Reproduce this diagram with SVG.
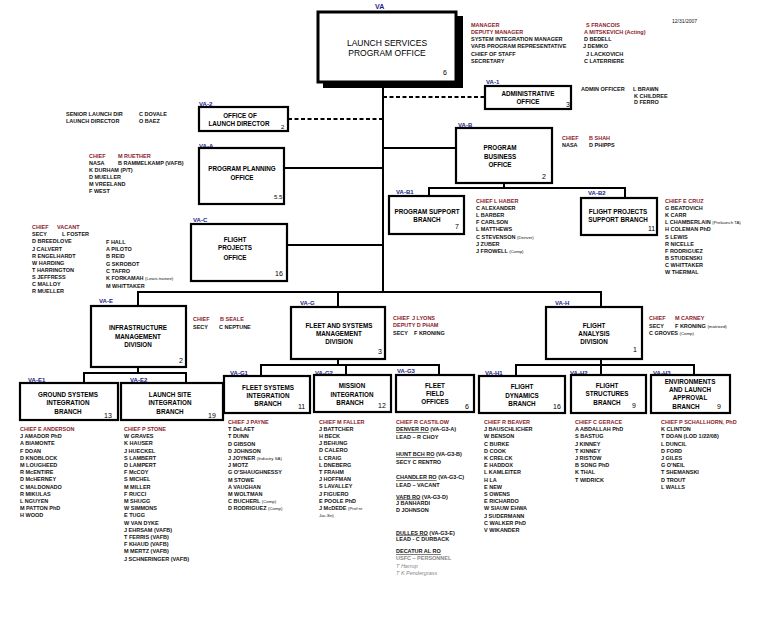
<svg xmlns="http://www.w3.org/2000/svg" width="763" height="619" viewBox="0 0 763 619">
<style>
text{font-family:"Liberation Sans",Arial,sans-serif}
.t{font-size:5.5px;font-weight:bold;fill:#111}
.r{fill:#8b1a2a}
.g{fill:#888}
.i{font-style:italic;font-weight:normal}
.u{text-decoration:underline}
.sm{font-size:4.3px;font-weight:normal}
.lb{font-size:6px;font-weight:bold;fill:#1c1c8a}
.bx{fill:#fff;stroke:#000;stroke-width:2.2}
.bt{font-size:6.3px;font-weight:bold;text-anchor:middle;fill:#000}
.n{font-size:7px;fill:#000}
.c{fill:none;stroke:#000;stroke-width:2}
.d{stroke-dasharray:4 2.5}
</style>
<rect width="763" height="619" fill="#fff"/>
<g id="connectors">
<path class="c" d="M383 82V292"/>
<path class="c d" d="M288 119H383"/>
<path class="c d" d="M383 97H485"/>
<path class="c" d="M284 168H383"/>
<path class="c" d="M383 148H456"/>
<path class="c" d="M287 245H383"/>
<path class="c" d="M504 183V188"/>
<path class="c" d="M429 196V188H625V198"/>
<path class="c" d="M138 306V292H601V307"/>
<path class="c" d="M338 292V307"/>
<path class="c" d="M138 367V373"/>
<path class="c" d="M84 383V373H186V383"/>
<path class="c" d="M338 359V365"/>
<path class="c" d="M261 376V365H439V375"/>
<path class="c" d="M346 365V375"/>
<path class="c" d="M601 359V375"/>
<path class="c" d="M516 376V365H694V375"/>
</g>
<text class="t" x="672" y="23" style="font-size:5px;font-weight:normal">12/31/2007</text>
<g id="lspo">
<text class="lb" x="375" y="9" style="font-size:7px">VA</text>
<rect x="323" y="16" width="140" height="72" fill="#000"/>
<rect x="318" y="12" width="138" height="70" fill="#fff" stroke="#000" stroke-width="3"/>
<text class="bt" x="387" y="45.5" style="font-size:8.5px;font-weight:normal">LAUNCH SERVICES</text>
<text class="bt" x="387" y="56" style="font-size:8.5px;font-weight:normal">PROGRAM OFFICE</text>
<text class="n" x="443" y="75">6</text>
<text class="t" x="471" y="26.5"><tspan class="r">MANAGER</tspan><tspan x="471" dy="7.3" class="r">DEPUTY MANAGER</tspan><tspan x="471" dy="7.3">SYSTEM INTEGRATION MANAGER</tspan><tspan x="471" dy="7.3">VAFB PROGRAM REPRESENTATIVE</tspan><tspan x="471" dy="7.3">CHIEF OF STAFF</tspan><tspan x="471" dy="7.3">SECRETARY</tspan></text>
<text class="t" x="586" y="26.5"><tspan class="r">S FRANCOIS</tspan><tspan x="584" dy="7.3" class="r">A MITSKEVICH (Acting)</tspan><tspan x="584" dy="7.3">D BEDELL</tspan><tspan x="583" dy="7.3">J DEMKO</tspan><tspan x="586" dy="7.3">J LACKOVICH</tspan><tspan x="584" dy="7.3">C LATERRIERE</tspan></text>
</g>
<g id="va1">
<text class="lb" x="486" y="83.5">VA-1</text>
<rect class="bx" x="485" y="86" width="86" height="23"/>
<text class="bt" x="528" y="96">ADMINISTRATIVE</text>
<text class="bt" x="528" y="104">OFFICE</text>
<text class="n" x="566" y="107">3</text>
<text class="t" x="581" y="91">ADMIN OFFICER<tspan x="633">L BRAWN</tspan><tspan x="634" dy="6.5">K CHILDREE</tspan><tspan x="634" dy="6.5">D FERRO</tspan></text>
</g>
<g id="va2">
<text class="lb" x="199" y="106">VA-2</text>
<rect class="bx" x="199" y="107" width="89" height="24"/>
<text class="bt" x="240" y="118">OFFICE OF</text>
<text class="bt" x="239" y="125.5">LAUNCH DIRECTOR</text>
<text class="n" x="281" y="129" style="font-size:6px">2</text>
<text class="t" x="66" y="116">SENIOR LAUNCH DIR<tspan x="139">C DOVALE</tspan><tspan x="66" dy="7">LAUNCH DIRECTOR</tspan><tspan x="139">O BAEZ</tspan></text>
</g>
<g id="vaa">
<text class="lb" x="199" y="147.5">VA-A</text>
<rect class="bx" x="199" y="148" width="85" height="56"/>
<text class="bt" x="242" y="170.5">PROGRAM PLANNING</text>
<text class="bt" x="242" y="179.5">OFFICE</text>
<text class="n" x="274" y="199" style="font-size:6px">5.5</text>
<text class="t" x="89" y="158"><tspan class="r">CHIEF</tspan><tspan x="118" class="r">M RUETHER</tspan><tspan x="89" dy="7">NASA</tspan><tspan x="118">B RAMMELKAMP (VAFB)</tspan><tspan x="89" dy="7">K DURHAM (P/T)</tspan><tspan x="89" dy="7">D MUELLER</tspan><tspan x="89" dy="7">M VREELAND</tspan><tspan x="89" dy="7.3">F WEST</tspan></text>
</g>
<g id="vab">
<text class="lb" x="458" y="127">VA-B</text>
<rect class="bx" x="456" y="128" width="96" height="55"/>
<text class="bt" x="500" y="149.5">PROGRAM</text>
<text class="bt" x="500" y="158.5">BUSINESS</text>
<text class="bt" x="500" y="167">OFFICE</text>
<text class="n" x="542" y="179">2</text>
<text class="t" x="562" y="140"><tspan class="r">CHIEF</tspan><tspan x="589" class="r">B SHAH</tspan><tspan x="562" dy="7">NASA</tspan><tspan x="589">D PHIPPS</tspan></text>
</g>
<g id="vab1">
<text class="lb" x="396" y="194">VA-B1</text>
<rect class="bx" x="389" y="196" width="75" height="38"/>
<text class="bt" x="427" y="213.5">PROGRAM SUPPORT</text>
<text class="bt" x="427" y="221.5">BRANCH</text>
<text class="n" x="455" y="229">7</text>
<text class="t" x="476" y="203"><tspan class="r">CHIEF  L HABER</tspan><tspan x="476" dy="7.1">C ALEXANDER</tspan><tspan x="476" dy="7.1">L BARBER</tspan><tspan x="476" dy="7.1">F CARLSON</tspan><tspan x="476" dy="7.1">L MATTHEWS</tspan><tspan x="476" dy="7.1">C STEVENSON <tspan class="sm">(Denver)</tspan></tspan><tspan x="476" dy="7.1">J ZUBER</tspan><tspan x="476" dy="7.1">J FROWELL <tspan class="sm">(Comp)</tspan></tspan></text>
</g>
<g id="vab2">
<text class="lb" x="588" y="194.5">VA-B2</text>
<rect class="bx" x="581" y="198" width="76" height="37"/>
<text class="bt" x="618" y="213.5">FLIGHT PROJECTS</text>
<text class="bt" x="618" y="221.5">SUPPORT BRANCH</text>
<text class="n" x="648" y="231">11</text>
<text class="t" x="665" y="203"><tspan class="r">CHIEF  E CRUZ</tspan><tspan x="665" dy="7.1">G BEATOVICH</tspan><tspan x="665" dy="7.1">K CARR</tspan><tspan x="665" dy="7.1">L CHAMBERLAIN <tspan class="sm">(Prelaunch TA)</tspan></tspan><tspan x="665" dy="7.1">H COLEMAN PhD</tspan><tspan x="665" dy="7.1">S LEWIS</tspan><tspan x="665" dy="7.1">R NICELLE</tspan><tspan x="665" dy="7.1">F RODRIGUEZ</tspan><tspan x="665" dy="7.1">B STUDENSKI</tspan><tspan x="665" dy="7.1">C WHITTAKER</tspan><tspan x="665" dy="7.1">W THERMAL</tspan></text>
</g>
<g id="vac">
<text class="lb" x="193" y="221.5">VA-C</text>
<rect class="bx" x="191" y="224" width="96" height="57"/>
<text class="bt" x="235" y="242">FLIGHT</text>
<text class="bt" x="235" y="250">PROJECTS</text>
<text class="bt" x="235" y="259.5">OFFICE</text>
<text class="n" x="275" y="276">16</text>
<text class="t" x="32" y="229"><tspan class="r">CHIEF</tspan><tspan x="57" class="r">VACANT</tspan><tspan x="32" dy="7.1">SECY</tspan><tspan x="62">L FOSTER</tspan><tspan x="32" dy="7.3">D BREEDLOVE</tspan><tspan x="32" dy="7.1">J CALVERT</tspan><tspan x="32" dy="7.1">R ENGELHARDT</tspan><tspan x="32" dy="7.1">W HARDING</tspan><tspan x="32" dy="7.1">T HARRINGTON</tspan><tspan x="32" dy="7.1">S JEFFRESS</tspan><tspan x="32" dy="7.1">C MALLOY</tspan><tspan x="32" dy="7.1">R MUELLER</tspan></text>
<text class="t" x="106" y="243.7">F HALL<tspan x="106" dy="7.3">A PILOTO</tspan><tspan x="106" dy="7.3">B REID</tspan><tspan x="106" dy="7.3">G SKROBOT</tspan><tspan x="106" dy="7.3">C TAFRO</tspan><tspan x="106" dy="7.3">K FORKAMAH <tspan class="sm">(Lewis trainee)</tspan></tspan><tspan x="106" dy="7.3">M WHITTAKER</tspan></text>
</g>
<g id="vae">
<text class="lb" x="99" y="303">VA-E</text>
<rect class="bx" x="91" y="306" width="95" height="61"/>
<text class="bt" x="138" y="330">INFRASTRUCTURE</text>
<text class="bt" x="138" y="338.5">MANAGEMENT</text>
<text class="bt" x="138" y="347">DIVISION</text>
<text class="n" x="179" y="363">2</text>
<text class="t" x="193" y="321"><tspan class="r">CHIEF</tspan><tspan x="220" class="r">B SEALE</tspan><tspan x="193" dy="7.5">SECY</tspan><tspan x="219">C NEPTUNE</tspan></text>
</g>
<g id="vae1">
<text class="lb" x="28" y="381.5">VA-E1</text>
<rect class="bx" x="20" y="383" width="98" height="37"/>
<text class="bt" x="68" y="396.5">GROUND SYSTEMS</text>
<text class="bt" x="68" y="404.5">INTEGRATION</text>
<text class="bt" x="68" y="413.5">BRANCH</text>
<text class="n" x="104" y="418">13</text>
<text class="t" x="20" y="431"><tspan class="r">CHIEF E ANDERSON</tspan><tspan x="20" dy="7.2">J AMADOR PhD</tspan><tspan x="20" dy="7.2">A BIAMONTE</tspan><tspan x="20" dy="7.2">F DOAN</tspan><tspan x="20" dy="7.2">D KNOBLOCK</tspan><tspan x="20" dy="7.2">M LOUGHEED</tspan><tspan x="20" dy="7.2">R McENTIRE</tspan><tspan x="20" dy="7.2">D McHERNEY</tspan><tspan x="20" dy="7.2">C MALDONADO</tspan><tspan x="20" dy="7.2">R MIKULAS</tspan><tspan x="20" dy="7.2">L NGUYEN</tspan><tspan x="20" dy="7.2">M PATTON PhD</tspan><tspan x="20" dy="7.2">H WOOD</tspan></text>
</g>
<g id="vae2">
<text class="lb" x="130" y="381.5">VA-E2</text>
<rect class="bx" x="121" y="383" width="102" height="37"/>
<text class="bt" x="170" y="396.5">LAUNCH SITE</text>
<text class="bt" x="170" y="404.5">INTEGRATION</text>
<text class="bt" x="170" y="413.5">BRANCH</text>
<text class="n" x="208" y="418">19</text>
<text class="t" x="124" y="431"><tspan class="r">CHIEF  P STONE</tspan><tspan x="124" dy="7.2">W GRAVES</tspan><tspan x="124" dy="7.2">K HAUSER</tspan><tspan x="124" dy="7.2">J HUECKEL</tspan><tspan x="124" dy="7.2">S LAMBERT</tspan><tspan x="124" dy="7.2">D LAMPERT</tspan><tspan x="124" dy="7.2">F McCOY</tspan><tspan x="124" dy="7.2">S MICHEL</tspan><tspan x="124" dy="7.2">M MILLER</tspan><tspan x="124" dy="7.2">F RUCCI</tspan><tspan x="124" dy="7.2">M SHUGG</tspan><tspan x="124" dy="7.2">W SIMMONS</tspan><tspan x="124" dy="7.2">E TUGG</tspan><tspan x="124" dy="7.2">W VAN DYKE</tspan><tspan x="124" dy="7.2">J EHRSAM (VAFB)</tspan><tspan x="124" dy="7.2">T FERRIS (VAFB)</tspan><tspan x="124" dy="7.2">F KHAUD (VAFB)</tspan><tspan x="124" dy="7.2">M MERTZ (VAFB)</tspan><tspan x="124" dy="7.2">J SCHNERINGER (VAFB)</tspan></text>
</g>
<g id="vag">
<text class="lb" x="300" y="305">VA-G</text>
<rect class="bx" x="291" y="307" width="94" height="52"/>
<text class="bt" x="339" y="327.5">FLEET AND SYSTEMS</text>
<text class="bt" x="339" y="335.5">MANAGEMENT</text>
<text class="bt" x="339" y="344">DIVISION</text>
<text class="n" x="378" y="354">3</text>
<text class="t" x="393" y="320"><tspan class="r">CHIEF</tspan><tspan x="412" class="r">J LYONS</tspan><tspan x="393" dy="6.6" class="r">DEPUTY D PHAM</tspan><tspan x="393" dy="8">SECY</tspan><tspan x="414">F KRONING</tspan></text>
</g>
<g id="vag1">
<text class="lb" x="230" y="374.5">VA-G1</text>
<rect class="bx" x="224" y="376" width="86" height="37"/>
<text class="bt" x="268" y="389.5">FLEET SYSTEMS</text>
<text class="bt" x="268" y="398">INTEGRATION</text>
<text class="bt" x="268" y="406">BRANCH</text>
<text class="n" x="298" y="409">11</text>
<text class="t" x="228" y="424"><tspan class="r">CHIEF J PAYNE</tspan><tspan x="228" dy="7.2">T DeLAET</tspan><tspan x="228" dy="7.2">T DUNN</tspan><tspan x="228" dy="7.2">D GIBSON</tspan><tspan x="228" dy="7.2">D JOHNSON</tspan><tspan x="228" dy="7.2">J JOYNER <tspan class="sm">(Industry SA)</tspan></tspan><tspan x="228" dy="7.2">J MOTZ</tspan><tspan x="228" dy="7.2">G O'SHAUGHNESSY</tspan><tspan x="228" dy="7.2">M STOWE</tspan><tspan x="228" dy="7.2">A VAUGHAN</tspan><tspan x="228" dy="7.2">M WOLTMAN</tspan><tspan x="228" dy="7.2">C BUCHERL <tspan class="sm">(Comp)</tspan></tspan><tspan x="228" dy="7.2">D RODRIGUEZ <tspan class="sm">(Comp)</tspan></tspan></text>
</g>
<g id="vag2">
<text class="lb" x="315" y="374.5">VA-G2</text>
<rect class="bx" x="314" y="375" width="77" height="37"/>
<text class="bt" x="352" y="388">MISSION</text>
<text class="bt" x="352" y="396.5">INTEGRATION</text>
<text class="bt" x="350" y="404.5">BRANCH</text>
<text class="n" x="378" y="408">12</text>
<text class="t" x="319" y="423.5"><tspan class="r">CHIEF M FALLER</tspan><tspan x="319" dy="7.2">J BATTCHER</tspan><tspan x="319" dy="7.2">H BECK</tspan><tspan x="319" dy="7.2">J BEHUNG</tspan><tspan x="319" dy="7.2">D CALERO</tspan><tspan x="319" dy="7.2">L CRAIG</tspan><tspan x="319" dy="7.2">L DNEBERG</tspan><tspan x="319" dy="7.2">T FRAHM</tspan><tspan x="319" dy="7.2">J HOFFMAN</tspan><tspan x="319" dy="7.2">S LAVALLEY</tspan><tspan x="319" dy="7.2">J FIGUERO</tspan><tspan x="319" dy="7.2">E POOLE PhD</tspan><tspan x="319" dy="7.2">J McDEDE <tspan class="sm">(Prof nr</tspan></tspan><tspan x="319" dy="7" class="sm">Jac-Sn)</tspan></text>
</g>
<g id="vag3">
<text class="lb" x="397" y="373">VA-G3</text>
<rect class="bx" x="396" y="375" width="78" height="37"/>
<text class="bt" x="435" y="387.5">FLEET</text>
<text class="bt" x="435" y="395.5">FIELD</text>
<text class="bt" x="435" y="403.5">OFFICES</text>
<text class="n" x="465" y="408.5">6</text>
<text class="t" x="396" y="423.5"><tspan class="r">CHIEF  R CASTILOW</tspan><tspan x="396" y="431"><tspan class="u">DENVER RO</tspan> (VA-G3-A)</tspan><tspan x="396" y="438.5">LEAD – R CHOY</tspan><tspan x="396" y="456"><tspan class="u">HUNT BCH RO</tspan> (VA-G3-B)</tspan><tspan x="396" y="464">SECY  C RENTRO</tspan><tspan x="396" y="479"><tspan class="u">CHANDLER RO</tspan> (VA-G3-C)</tspan><tspan x="396" y="486.5">LEAD – VACANT</tspan><tspan x="396" y="498.5"><tspan class="u">VAFB RO</tspan> (VA-G3-D)</tspan><tspan x="396" y="505">J BANHARDI</tspan><tspan x="396" y="511.5">D JOHNSON</tspan><tspan x="396" y="534.5"><tspan class="u">DULLES RO</tspan> (VA-G3-E)</tspan><tspan x="396" y="541">LEAD - C DURBACK</tspan><tspan x="396" y="553" class="u">DECATUR AL RO</tspan><tspan x="396" y="560" class="g">USFC – PERSONNEL</tspan><tspan x="396" y="567.5" class="g i">T Harrop</tspan><tspan x="396" y="575" class="g i">T K Pendergrass</tspan></text>
</g>
<g id="vah">
<text class="lb" x="555" y="305">VA-H</text>
<rect class="bx" x="546" y="307" width="96" height="52"/>
<text class="bt" x="594" y="327.5">FLIGHT</text>
<text class="bt" x="594" y="335.5">ANALYSIS</text>
<text class="bt" x="594" y="343.5">DIVISION</text>
<text class="n" x="633" y="352">1</text>
<text class="t" x="649" y="320"><tspan class="r">CHIEF</tspan><tspan x="675" class="r">M CARNEY</tspan><tspan x="649" dy="7.5">SECY</tspan><tspan x="675">F KRONING <tspan class="sm">(matrixed)</tspan></tspan><tspan x="649" dy="7.5">C GROVES <tspan class="sm">(Comp)</tspan></tspan></text>
</g>
<g id="vah1">
<text class="lb" x="485" y="375">VA-H1</text>
<rect class="bx" x="479" y="376" width="86" height="37"/>
<text class="bt" x="522" y="389">FLIGHT</text>
<text class="bt" x="522" y="397.5">DYNAMICS</text>
<text class="bt" x="522" y="405.5">BRANCH</text>
<text class="n" x="553" y="409">16</text>
<text class="t" x="484" y="424"><tspan class="r">CHIEF R BEAVER</tspan><tspan x="484" dy="7.2">J BAUSCHLICHER</tspan><tspan x="484" dy="7.2">W BENSON</tspan><tspan x="484" dy="7.2">C BURKE</tspan><tspan x="484" dy="7.2">D COOK</tspan><tspan x="484" dy="7.2">K CRELCK</tspan><tspan x="484" dy="7.2">E HADDOX</tspan><tspan x="484" dy="7.2">L KAMLEITER</tspan><tspan x="484" dy="7.2">H LA</tspan><tspan x="484" dy="7.2">E NEW</tspan><tspan x="484" dy="7.2">S OWENS</tspan><tspan x="484" dy="7.2">E RICHARDO</tspan><tspan x="484" dy="7.2">W SIAUW EHWA</tspan><tspan x="484" dy="7.2">J SUDERMANN</tspan><tspan x="484" dy="7.2">C WALKER PhD</tspan><tspan x="484" dy="7.2">V WIKANDER</tspan></text>
</g>
<g id="vah2">
<text class="lb" x="570" y="375">VA-H2</text>
<rect class="bx" x="571" y="375" width="75" height="38"/>
<text class="bt" x="607" y="387.5">FLIGHT</text>
<text class="bt" x="607" y="395.5">STRUCTURES</text>
<text class="bt" x="607" y="404.5">BRANCH</text>
<text class="n" x="632" y="408">9</text>
<text class="t" x="575" y="424"><tspan class="r">CHIEF C GERACE</tspan><tspan x="575" dy="7.2">A ABDALLAH PhD</tspan><tspan x="575" dy="7.2">S BASTUG</tspan><tspan x="575" dy="7.2">J KINNEY</tspan><tspan x="575" dy="7.2">T KINNEY</tspan><tspan x="575" dy="7.2">J RISTOW</tspan><tspan x="575" dy="7.2">B SONG PhD</tspan><tspan x="575" dy="7.2">K THAL</tspan><tspan x="575" dy="7.2">T WIDRICK</tspan></text>
</g>
<g id="vah3">
<text class="lb" x="653" y="375">VA-H3</text>
<rect class="bx" x="651" y="375" width="79" height="38"/>
<text class="bt" x="690" y="384">ENVIRONMENTS</text>
<text class="bt" x="690" y="391.5">AND LAUNCH</text>
<text class="bt" x="690" y="399.5">APPROVAL</text>
<text class="bt" x="686" y="408.5">BRANCH</text>
<text class="n" x="717" y="409">9</text>
<text class="t" x="661" y="424"><tspan class="r">CHIEF  P SCHALLHORN, PhD</tspan><tspan x="661" dy="7.2">K CLINTON</tspan><tspan x="661" dy="7.2">T DOAN (LOD 1/22/08)</tspan><tspan x="661" dy="7.2">L DUNCIL</tspan><tspan x="661" dy="7.2">D FORD</tspan><tspan x="661" dy="7.2">J GILES</tspan><tspan x="661" dy="7.2">G O'NEIL</tspan><tspan x="661" dy="7.2">T SHEMANSKI</tspan><tspan x="661" dy="7.2">D TROUT</tspan><tspan x="661" dy="7.2">L WALLS</tspan></text>
</g>
</svg>
